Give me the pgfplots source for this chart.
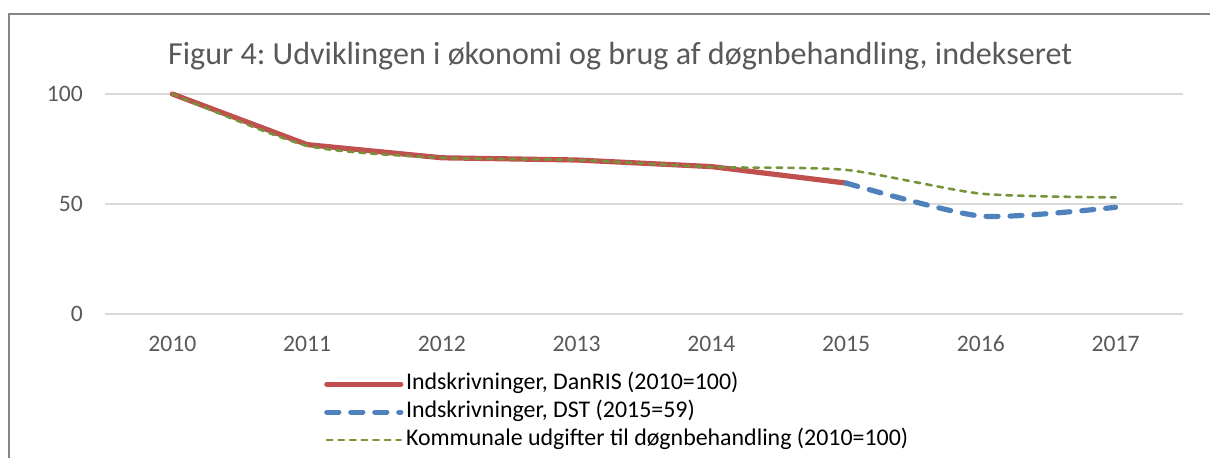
\documentclass[border=0pt]{standalone}
\usepackage{pgfplots}
\pgfplotsset{compat=1.18}
\usepackage{fontspec}
\setmainfont{Carlito}
\frenchspacing
\definecolor{cred}{HTML}{C0504D}
\definecolor{cblue}{HTML}{4F81BD}
\definecolor{cgreen}{HTML}{77933C}
\definecolor{tgray}{HTML}{595959}
\definecolor{ggray}{HTML}{D9D9D9}
\definecolor{fgray}{HTML}{868686}
\begin{document}
\begin{tikzpicture}
\begin{axis}[
  at={(52.5pt,72pt)}, anchor=south west,
  scale only axis, width=539pt, height=110pt,
  xmin=-0.5, xmax=7.5, ymin=0, ymax=100,
  clip=false,
  axis line style={draw=none},
  xtick={0,1,2,3,4,5,6,7},
  xticklabels={2010,2011,2012,2013,2014,2015,2016,2017},
  ytick={0,50,100},
  major tick length=0pt,
  ymajorgrids, grid style={ggray, line width=1pt},
  tick label style={font=\fontsize{11.8}{14}\selectfont, text=tgray},
  /pgf/number format/assume math mode=true,
  xticklabel style={text height=8pt, text depth=0pt, yshift=-7.3pt},
  yticklabel style={xshift=-7.6pt},
  legend style={at={(0.203,-0.267)}, anchor=north west, draw=none, fill=none,
    font=\fontsize{11.95}{14}\selectfont, row sep=3pt, inner sep=0pt,
    nodes={inner xsep=1.3pt, inner ysep=0pt, text height=8pt, text depth=3pt}},
  legend cell align=left,
  legend image code/.code={\draw[#1] (0pt,0pt) -- (37pt,0pt);},
]
\addplot[cred, line width=2.6pt, line cap=round, line join=round]
  coordinates {(0,100)(1,77)(2,71)(3,70)(4,67)(5,59.5)};
\addlegendentry{Indskrivninger, DanRIS (2010=100)}
\addplot[cblue, line width=2.6pt, line cap=round, dash pattern=on 6pt off 6pt, smooth, tension=0.4]
  coordinates {(5,59.5)(6,44.5)(7,48.5)};
\addlegendentry{Indskrivninger, DST (2015=59)}
\addplot[cgreen, line width=1.3pt, line cap=round, dash pattern=on 2.8pt off 3pt, smooth, tension=0.4]
  coordinates {(0,100)(1,76.5)(2,71)(3,70)(4,66.8)(5,65.5)(6,54.7)(7,53)};
\addlegendentry{Kommunale udgifter til døgnbehandling (2010=100)}
\end{axis}
\node[anchor=base west, font=\fontsize{16.05}{18}\selectfont, text=tgray] at (80.5pt,196.5pt)
  {Figur 4: Udviklingen i økonomi og brug af døgnbehandling, indekseret};
\draw[fgray, line width=1pt] (4.5pt,-5pt) -- (4.5pt,222pt) -- (620pt,222pt);
\pgfresetboundingbox
\path[use as bounding box] (0,0) rectangle (605pt,229pt);
\end{tikzpicture}
\end{document}
